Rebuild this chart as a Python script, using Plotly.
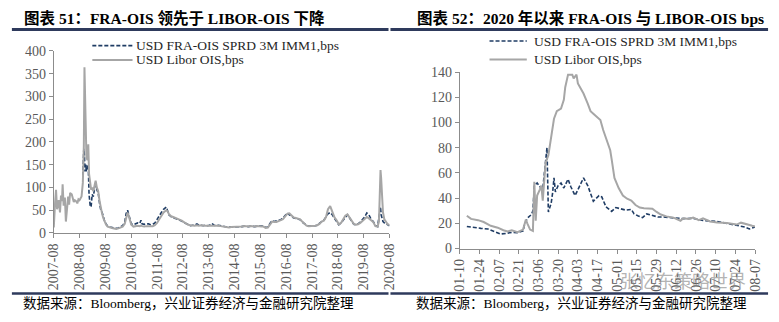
import plotly.graph_objects as go

W, H = 779, 322

# ---------------- Chart 51: FRA-OIS vs LIBOR-OIS, 2007-2020 ----------------
long_dates = [
    "2007-08-01", "2007-08-10", "2007-08-20", "2007-09-02", "2007-09-16", "2007-09-28",
    "2007-10-09", "2007-10-28", "2007-11-11", "2007-11-25", "2007-12-04", "2007-12-18",
    "2008-01-05", "2008-01-19", "2008-02-02", "2008-02-20", "2008-03-05", "2008-03-19",
    "2008-04-11", "2008-04-25", "2008-05-10", "2008-05-25", "2008-06-10", "2008-06-29",
    "2008-07-15", "2008-07-30", "2008-08-15", "2008-08-28", "2008-09-15", "2008-09-29",
    "2008-10-08", "2008-10-15", "2008-10-25", "2008-11-05", "2008-11-20", "2008-12-01",
    "2008-12-12", "2008-12-28", "2009-01-10", "2009-01-25", "2009-02-10", "2009-03-01",
    "2009-03-15", "2009-04-01", "2009-04-20", "2009-05-10", "2009-05-25", "2009-06-15",
    "2009-07-01", "2009-07-20", "2009-08-10", "2009-09-01", "2009-10-01", "2009-11-01",
    "2009-12-01", "2010-01-01", "2010-02-01", "2010-03-01", "2010-04-01", "2010-05-01",
    "2010-05-20", "2010-06-10", "2010-06-25", "2010-07-10", "2010-08-01", "2010-09-01",
    "2010-10-01", "2010-11-01", "2010-12-01", "2010-12-16", "2011-01-01", "2011-02-01",
    "2011-03-01", "2011-04-01", "2011-05-01", "2011-06-01", "2011-07-01", "2011-08-01",
    "2011-09-01", "2011-10-01", "2011-11-01", "2011-12-10", "2011-12-25", "2012-01-15",
    "2012-02-15", "2012-03-15", "2012-04-15", "2012-05-15", "2012-06-15", "2012-07-15",
    "2012-08-15", "2012-09-15", "2012-10-15", "2012-11-15", "2012-12-15",
    "2013-01-15", "2013-02-15", "2013-03-15", "2013-04-15", "2013-05-15", "2013-06-15",
    "2013-07-15", "2013-08-15", "2013-09-15", "2013-10-15", "2013-11-15", "2013-12-15",
    "2014-01-15", "2014-02-15", "2014-03-15", "2014-04-15", "2014-05-15", "2014-06-15",
    "2014-07-15", "2014-08-15", "2014-09-15", "2014-10-15", "2014-11-15", "2014-12-15",
    "2015-01-15", "2015-02-15", "2015-03-15", "2015-04-15", "2015-05-15", "2015-06-15",
    "2015-07-15", "2015-08-15", "2015-09-15", "2015-10-15", "2015-11-15", "2015-12-15",
    "2016-01-15", "2016-02-15", "2016-03-15", "2016-04-15", "2016-05-15", "2016-06-15",
    "2016-07-15", "2016-08-15", "2016-09-15", "2016-10-15", "2016-11-15", "2016-12-15",
    "2017-01-15", "2017-02-15", "2017-03-15", "2017-04-15", "2017-05-15", "2017-06-15",
    "2017-07-15", "2017-08-15", "2017-09-15", "2017-10-15", "2017-11-15", "2017-12-15",
    "2018-01-15", "2018-02-15", "2018-03-15", "2018-04-15", "2018-05-15", "2018-06-15",
    "2018-07-15", "2018-08-15", "2018-09-15", "2018-10-15", "2018-11-15", "2018-12-15",
    "2019-01-15", "2019-02-15", "2019-03-15", "2019-04-15", "2019-05-15", "2019-06-15",
    "2019-07-15", "2019-08-15", "2019-09-15", "2019-10-15", "2019-11-15", "2019-12-15",
    "2020-01-15", "2020-02-15", "2020-03-05", "2020-03-18", "2020-03-27", "2020-04-05",
    "2020-04-20", "2020-05-01", "2020-05-20", "2020-06-10", "2020-07-01", "2020-08-01",
]
long_libor_ois = [
    12, 55, 68, 95, 52, 62,
    72, 45, 82, 70, 107, 60,
    78, 25, 45, 80, 62, 88,
    85, 74, 68, 72, 70, 65,
    74, 72, 76, 80, 110, 190,
    364, 290, 250, 165, 160, 195,
    130, 100, 95, 100, 92, 105,
    115, 100, 92, 70, 55, 42,
    33, 24, 18, 14, 12, 11,
    10, 9, 10, 12, 14, 20,
    35, 45, 38, 30, 18, 14,
    15, 16, 15, 16, 15, 14,
    15, 15, 14, 15, 17, 22,
    30, 38, 45, 50, 48, 42,
    37, 35, 33, 31, 30, 27,
    24, 20, 18, 17, 16,
    16, 17, 16, 17, 16, 16,
    16, 16, 16, 17, 16, 16,
    15, 14, 13, 13, 12, 13,
    13, 13, 14, 13, 14, 15,
    14, 14, 15, 14, 14, 15,
    14, 14, 14, 11, 12, 20,
    25, 24, 24, 26, 28, 30,
    36, 42, 43, 38, 34, 33,
    32, 30, 25, 20, 16, 15,
    15, 16, 16, 17, 20, 25,
    27, 35, 52, 59, 44, 34,
    28, 19, 22, 30, 38, 41,
    34, 26, 20, 18, 19, 22,
    27, 30, 35, 32, 27, 24,
    15, 14, 25, 80, 138, 120,
    65, 45, 30, 24, 20, 17,
]
long_fra_ois = [
    None, None, None, None, None, None,
    None, None, None, None, None, None,
    None, None, None, None, None, None,
    None, None, None, None, None, None,
    None, None, None, None, 125, 185,
    170, 135, 150, 135, 150, 145,
    85, 60, 57, 85, 80, 95,
    112, 95, 88, 65, 52, 45,
    36, 26, 20, 15, 13, 12,
    11, 10, 11, 13, 16, 24,
    42, 50, 42, 32, 20, 18,
    20, 22, 21, 28, 20, 19,
    20, 20, 18, 19, 22, 30,
    40, 45, 52, 57, 50, 40,
    36, 33, 32, 30, 29, 26,
    23, 20, 18, 16, 17,
    17, 20, 17, 17, 16, 17,
    16, 17, 21, 17, 16, 17,
    16, 14, 14, 13, 13, 13,
    13, 14, 14, 13, 14, 15,
    14, 14, 15, 14, 14, 15,
    15, 14, 15, 12, 13, 21,
    27, 25, 26, 28, 29, 32,
    38, 44, 40, 37, 33, 32,
    31, 29, 24, 20, 17, 15,
    15, 15, 16, 17, 22, 25,
    28, 35, 42, 45, 40, 32,
    25, 18, 22, 28, 35, 40,
    33, 24, 19, 18, 20, 24,
    30, 35, 44, 40, 30, 25,
    16, 14, 35, 55, 57, 40,
    30, 25, 22, 20, 18, 16,
]
long_tick_dates = ["%d-08-01" % y for y in range(2007, 2021)]
long_tick_labels = ["%d-08" % y for y in range(2007, 2021)]

# ---------------- Chart 52: since 2020 ----------------
short_libor_dates = [
    "2020-01-15", "2020-01-18", "2020-01-23", "2020-01-27", "2020-02-01", "2020-02-06",
    "2020-02-10", "2020-02-13", "2020-02-16", "2020-02-20", "2020-02-24", "2020-02-26",
    "2020-02-27", "2020-02-29", "2020-03-02", "2020-03-03", "2020-03-04", "2020-03-05",
    "2020-03-07", "2020-03-08", "2020-03-09", "2020-03-10", "2020-03-11", "2020-03-13",
    "2020-03-14", "2020-03-15", "2020-03-17", "2020-03-19", "2020-03-22", "2020-03-24",
    "2020-03-25", "2020-03-27", "2020-03-30", "2020-03-31", "2020-04-02", "2020-04-03",
    "2020-04-05", "2020-04-07", "2020-04-10", "2020-04-12", "2020-04-14", "2020-04-17",
    "2020-04-19", "2020-04-21", "2020-04-24", "2020-04-26", "2020-04-27", "2020-04-29",
    "2020-05-02", "2020-05-05", "2020-05-08", "2020-05-11", "2020-05-14", "2020-05-17",
    "2020-05-20", "2020-05-23", "2020-05-26", "2020-05-29", "2020-06-01", "2020-06-05",
    "2020-06-10", "2020-06-15", "2020-06-17", "2020-06-21", "2020-06-24", "2020-06-28",
    "2020-07-01", "2020-07-06", "2020-07-11", "2020-07-18", "2020-07-25", "2020-07-28",
    "2020-08-01", "2020-08-05", "2020-08-07",
]
short_libor_ois = [
    26, 23.5, 22.5, 21, 18, 16.5,
    14.5, 13.5, 14.5, 13, 15, 23,
    20, 15, 14, 53, 22, 42,
    47, 50, 38, 52, 68, 74,
    82, 90, 103, 109, 111, 118,
    128, 138, 138, 135, 138, 131,
    127, 123, 115, 109, 107, 104,
    102, 94, 85, 78, 71, 56,
    48, 42, 39.5, 38, 34.5, 32.5,
    32, 32, 31.5, 29, 27, 25.5,
    24.5, 22, 24, 23.5, 24.5, 22.5,
    24, 21.5, 20.7, 20.2, 19, 20.5,
    19, 18, 17.5,
]
short_fra_dates = [
    "2020-01-15", "2020-01-20", "2020-01-25", "2020-01-30", "2020-02-04", "2020-02-08",
    "2020-02-12", "2020-02-16", "2020-02-20", "2020-02-24", "2020-02-25", "2020-02-27",
    "2020-03-01", "2020-03-02", "2020-03-03", "2020-03-05", "2020-03-07", "2020-03-09",
    "2020-03-10", "2020-03-12", "2020-03-13", "2020-03-15", "2020-03-16", "2020-03-17",
    "2020-03-18", "2020-03-20", "2020-03-22", "2020-03-24", "2020-03-27", "2020-03-29",
    "2020-04-01", "2020-04-04", "2020-04-07", "2020-04-10", "2020-04-12", "2020-04-14",
    "2020-04-18", "2020-04-20", "2020-04-23", "2020-04-26", "2020-04-27", "2020-04-30",
    "2020-05-04", "2020-05-07", "2020-05-11", "2020-05-13", "2020-05-16", "2020-05-19",
    "2020-05-22", "2020-05-26", "2020-05-30", "2020-06-03", "2020-06-08", "2020-06-13",
    "2020-06-17", "2020-06-24", "2020-07-01", "2020-07-11", "2020-07-20", "2020-07-27",
    "2020-07-31", "2020-08-03", "2020-08-05", "2020-08-07",
]
short_fra_ois = [
    17.5, 16.5, 16, 15.5, 13.5, 11.5,
    12, 12.8, 12.5, 14, 19, 24,
    27, 30, 50, 52, 49, 47,
    58, 80, 29, 36, 44, 56,
    45, 50, 52, 48, 55, 49,
    42, 49, 56, 50, 44, 37.5,
    42, 41, 33, 30, 29.5, 32.5,
    31.5, 30.5, 31, 27.5, 25.8, 24.5,
    27.5, 26.5, 25, 25, 24.5, 24,
    23.7, 24, 22.2, 21.5, 19.7, 18.4,
    17, 15.5, 16, 17,
]
short_tick_dates = [
    "2020-01-10", "2020-01-24", "2020-02-07", "2020-02-21", "2020-03-06", "2020-03-20",
    "2020-04-03", "2020-04-17", "2020-05-01", "2020-05-15", "2020-05-29", "2020-06-12",
    "2020-06-26", "2020-07-10", "2020-07-24", "2020-08-07",
]
short_tick_labels = [d[5:] for d in short_tick_dates]

series_names = ["USD FRA-OIS SPRD 3M IMM1,bps", "USD Libor OIS,bps"]
titles = ["图表 51：FRA-OIS 领先于 LIBOR-OIS 下降",
          "图表 52：2020 年以来 FRA-OIS 与 LIBOR-OIS bps"]
source_text = "数据来源：Bloomberg，兴业证券经济与金融研究院整理"
watermark = "张忆东策略世界"

# ---------------- styling ----------------
NAVY = "#1F3C64"
GREY = "#A6A6A6"
AXIS = "#8C8C8C"
TICKC = "#595959"
RULE = "#2E3A5C"
FONT = "Times New Roman, Liberation Serif, Noto Sans CJK SC, serif"
DASH = "4px,2px"


def fx(px):
    return px / W


def fy(py):
    return 1 - py / H


fig = go.Figure()
fig.add_trace(go.Scatter(x=long_dates, y=long_fra_ois, mode="lines", name=series_names[0],
                         line=dict(color=NAVY, width=1.6, dash=DASH),
                         connectgaps=False, xaxis="x", yaxis="y", showlegend=False))
fig.add_trace(go.Scatter(x=long_dates, y=long_libor_ois, mode="lines", name=series_names[1],
                         line=dict(color=GREY, width=2), xaxis="x", yaxis="y", showlegend=False))
fig.add_trace(go.Scatter(x=short_fra_dates, y=short_fra_ois, mode="lines", name=series_names[0],
                         line=dict(color=NAVY, width=1.6, dash=DASH),
                         xaxis="x2", yaxis="y2", showlegend=False))
fig.add_trace(go.Scatter(x=short_libor_dates, y=short_libor_ois, mode="lines", name=series_names[1],
                         line=dict(color=GREY, width=2), xaxis="x2", yaxis="y2", showlegend=False))

axis_common = dict(showgrid=False, zeroline=False, showline=True, linecolor=AXIS, linewidth=1,
                   ticks="outside", ticklen=4, tickcolor=AXIS,
                   tickfont=dict(family=FONT, size=14, color=TICKC))

fig.update_layout(
    width=W, height=H, margin=dict(l=0, r=0, t=0, b=0),
    paper_bgcolor="white", plot_bgcolor="white",
    font=dict(family=FONT, size=14, color="#000000"),
    xaxis=dict(domain=[fx(47.7), fx(390)], type="date", range=["2007-08-01", "2020-08-01"],
               tickmode="array", tickvals=long_tick_dates, ticktext=long_tick_labels,
               tickangle=-90, anchor="y", **axis_common),
    yaxis=dict(domain=[fy(237), fy(46)], range=[0, 400], dtick=50, tick0=0, anchor="x",
               **axis_common),
    xaxis2=dict(domain=[fx(461.7), fx(762.7)], type="date", range=["2020-01-10", "2020-08-07"],
                tickmode="array", tickvals=short_tick_dates, ticktext=short_tick_labels,
                tickangle=-90, anchor="y2", **axis_common),
    yaxis2=dict(domain=[fy(253.3), fy(68.3)], range=[0, 140], dtick=20, tick0=0, anchor="x2",
                **axis_common),
)

shapes = []
annotations = []

# header / footer rules
for x0, x1 in [(5, 389), (391, 776)]:
    shapes.append(dict(type="line", xref="paper", yref="paper", x0=fx(x0), x1=fx(x1),
                       y0=fy(23.5), y1=fy(23.5), line=dict(color=RULE, width=3)))
    shapes.append(dict(type="line", xref="paper", yref="paper", x0=fx(x0), x1=fx(x1),
                       y0=fy(300.5), y1=fy(300.5), line=dict(color=RULE, width=2.5)))

# titles and sources
for tx, t in zip([15, 416], titles):
    annotations.append(dict(text="<b>%s</b>" % t, x=fx(tx), y=fy(12), xref="paper", yref="paper",
                            xanchor="left", yanchor="middle", showarrow=False,
                            font=dict(family=FONT, size=15.5, color="#000000")))
for sx in [14, 415]:
    annotations.append(dict(text=source_text, x=fx(sx), y=fy(311), xref="paper", yref="paper",
                            xanchor="left", yanchor="middle", showarrow=False,
                            font=dict(family=FONT, size=13.5, color="#000000")))

# legends (drawn as keys + text)
legend_specs = [
    (87, 128, 131, [40.5, 55.5]),
    (492, 530, 536, [35.7, 55]),
]
for lx0, lx1, tx, rows in legend_specs:
    for i, ry in enumerate(rows):
        shapes.append(dict(type="line", xref="paper", yref="paper", x0=fx(lx0), x1=fx(lx1),
                           y0=fy(ry), y1=fy(ry),
                           line=dict(color=NAVY if i == 0 else GREY, width=1.6 if i == 0 else 2,
                                     dash=DASH if i == 0 else "solid")))
        annotations.append(dict(text=series_names[i], x=fx(tx), y=fy(ry), xref="paper",
                                yref="paper", xanchor="left", yanchor="middle", showarrow=False,
                                borderpad=0,
                                font=dict(family=FONT, size=13.5, color="#262626")))

# watermark
annotations.append(dict(text=watermark, x=fx(623), y=fy(286), xref="paper", yref="paper",
                        xanchor="left", yanchor="middle", showarrow=False,
                        font=dict(family="Noto Sans CJK SC", size=18, color="rgba(130,130,130,0.6)")))

fig.update_layout(shapes=shapes, annotations=annotations)
fig.write_html("out.html")
